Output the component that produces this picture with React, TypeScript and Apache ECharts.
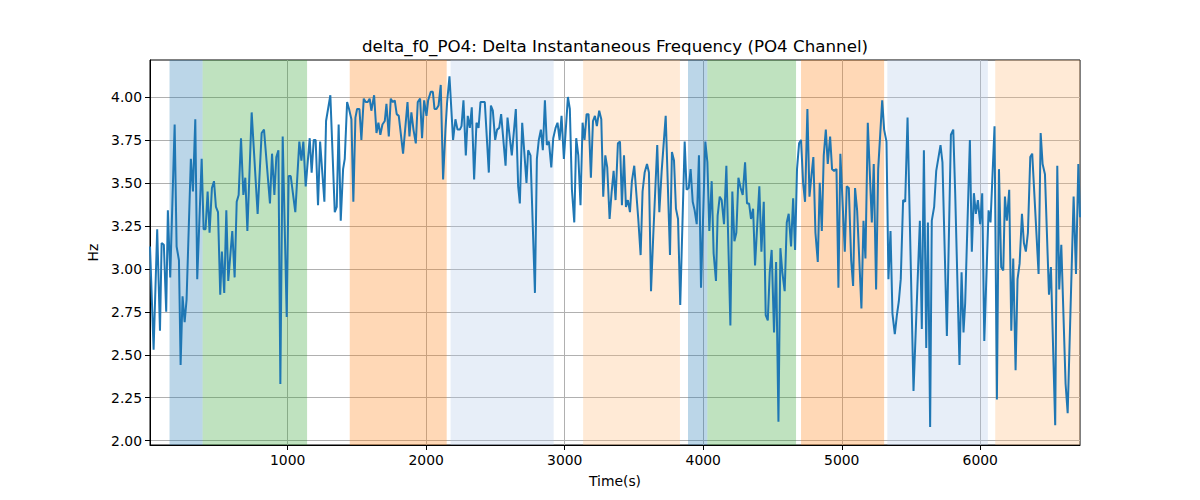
import { useEffect, useRef } from 'react';
import * as echarts from 'echarts';

const TITLE = 'delta_f0_PO4: Delta Instantaneous Frequency (PO4 Channel)';
const X_NAME = 'Time(s)';
const Y_NAME = 'Hz';

// samples (seconds, Hz)
const TIMES = [
  6, 32, 58, 78, 90, 106, 123, 135, 152, 184, 198, 215, 227, 241, 256, 270, 301, 316, 333, 347,
  379, 393, 407, 422, 436, 453, 468, 482, 497, 513, 525, 542, 557, 571, 600, 617, 632, 646, 663, 680,
  694, 709, 740, 783, 812, 829, 872, 887, 904, 918, 933, 947, 964, 993, 1007, 1022, 1055, 1084, 1099, 1113,
  1130, 1159, 1173, 1188, 1202, 1219, 1234, 1265, 1277, 1308, 1340, 1354, 1368, 1383, 1400, 1412, 1429, 1443, 1460, 1474,
  1489, 1501, 1518, 1532, 1549, 1563, 1578, 1592, 1604, 1624, 1641, 1655, 1669, 1684, 1701, 1713, 1730, 1744, 1759, 1773,
  1787, 1802, 1833, 1865, 1879, 1893, 1908, 1925, 1939, 1956, 1970, 1985, 2002, 2014, 2033, 2048, 2060, 2074, 2089, 2105,
  2122, 2139, 2151, 2168, 2194, 2211, 2226, 2243, 2255, 2269, 2286, 2300, 2315, 2329, 2346, 2363, 2378, 2392, 2406, 2423,
  2452, 2467, 2481, 2498, 2512, 2527, 2541, 2573, 2587, 2618, 2647, 2664, 2676, 2693, 2724, 2736, 2753, 2785, 2799, 2813,
  2828, 2842, 2857, 2871, 2886, 2903, 2917, 2934, 2948, 2963, 2977, 2994, 3023, 3037, 3052, 3069, 3083, 3098, 3114, 3129,
  3143, 3158, 3172, 3189, 3204, 3218, 3232, 3249, 3264, 3278, 3293, 3307, 3324, 3338, 3353, 3367, 3384, 3399, 3413, 3428,
  3442, 3456, 3471, 3485, 3502, 3531, 3548, 3562, 3577, 3594, 3608, 3623, 3639, 3668, 3683, 3700, 3729, 3760, 3774, 3789,
  3803, 3818, 3834, 3866, 3880, 3895, 3909, 3924, 3938, 3953, 3969, 3984, 4015, 4030, 4044, 4061, 4075, 4092, 4104, 4119,
  4133, 4150, 4167, 4196, 4210, 4225, 4239, 4254, 4270, 4285, 4302, 4316, 4331, 4345, 4360, 4374, 4405, 4420, 4437, 4451,
  4466, 4480, 4494, 4511, 4526, 4543, 4557, 4571, 4588, 4603, 4617, 4634, 4649, 4663, 4677, 4692, 4706, 4721, 4735, 4752,
  4767, 4781, 4795, 4810, 4827, 4841, 4856, 4870, 4885, 4899, 4916, 4930, 4945, 4962, 4976, 4990, 5022, 5036, 5051, 5068,
  5082, 5096, 5111, 5142, 5157, 5171, 5188, 5217, 5231, 5248, 5263, 5292, 5306, 5323, 5337, 5352, 5366, 5383, 5398, 5412,
  5426, 5443, 5458, 5475, 5518, 5564, 5578, 5593, 5610, 5622, 5638, 5650, 5667, 5682, 5713, 5727, 5759, 5788, 5805, 5819,
  5850, 5865, 5879, 5891, 5925, 5939, 5954, 5968, 5983, 5999, 6014, 6029, 6060, 6074, 6103, 6120, 6135, 6151, 6166, 6178,
  6192, 6209, 6224, 6238, 6255, 6269, 6284, 6301, 6315, 6329, 6344, 6361, 6375, 6421, 6436, 6450, 6467, 6496, 6510, 6541,
  6556, 6570, 6585, 6616, 6631, 6674, 6691, 6708, 6720,
];

const VALUES = [
  3.13, 2.53, 3.23, 2.64, 3.15, 3.14, 2.75, 3.34, 2.95, 3.84, 3.13, 3.05, 2.44, 2.84, 2.69, 2.82, 3.64, 3.45, 3.87, 2.94,
  3.64, 3.23, 3.23, 3.45, 3.21, 3.47, 3.51, 3.36, 3.33, 2.85, 3.10, 2.86, 3.34, 2.93, 3.22, 2.95, 3.39, 3.43, 3.76, 3.43,
  3.53, 3.22, 3.91, 3.32, 3.79, 3.81, 3.38, 3.67, 3.43, 3.65, 3.69, 2.33, 3.77, 2.72, 3.54, 3.54, 3.33, 3.74, 3.63, 3.74,
  3.48, 3.76, 3.56, 3.75, 3.75, 3.37, 3.74, 3.39, 3.86, 4.01, 3.33, 3.36, 3.84, 3.28, 3.58, 3.64, 3.97, 3.93, 3.87, 3.39,
  3.88, 3.93, 3.93, 3.75, 3.99, 3.97, 3.97, 3.99, 3.92, 4.01, 3.79, 3.85, 3.78, 3.84, 3.86, 3.96, 3.77, 3.99, 3.97, 3.98,
  3.90, 3.89, 3.67, 3.97, 3.77, 3.91, 3.81, 3.73, 3.97, 3.99, 3.76, 3.98, 3.89, 3.98, 4.03, 4.03, 3.93, 3.93, 3.95, 4.07,
  3.52, 3.81, 3.97, 4.12, 3.75, 3.87, 3.81, 3.81, 3.83, 3.98, 3.66, 3.89, 3.82, 3.94, 3.52, 3.85, 3.82, 3.97, 3.97, 3.97,
  3.56, 3.95, 3.92, 3.75, 3.81, 3.82, 3.90, 3.60, 3.88, 3.66, 3.93, 3.48, 3.38, 3.85, 3.50, 3.69, 3.66, 2.86, 3.64, 3.75,
  3.81, 3.69, 3.98, 3.72, 3.74, 3.59, 3.76, 3.82, 3.85, 3.75, 3.89, 3.64, 4.00, 3.93, 3.46, 3.27, 3.76, 3.66, 3.37, 3.85,
  3.75, 3.90, 3.90, 3.53, 3.86, 3.89, 3.83, 3.92, 3.87, 3.42, 3.66, 3.59, 3.29, 3.44, 3.57, 3.40, 3.73, 3.74, 3.37, 3.66,
  3.36, 3.40, 3.33, 3.51, 3.60, 3.29, 3.08, 3.45, 3.56, 3.61, 3.56, 2.87, 3.19, 3.72, 3.33, 3.57, 3.89, 3.08, 3.68, 3.63,
  3.35, 3.29, 2.79, 3.74, 3.46, 3.47, 3.58, 3.39, 3.34, 3.26, 3.66, 2.89, 3.74, 3.62, 3.22, 3.51, 3.09, 2.93, 3.31, 3.42,
  3.40, 3.26, 3.60, 2.67, 3.45, 3.16, 3.21, 3.53, 3.47, 3.43, 3.62, 3.38, 3.38, 3.29, 3.35, 3.02, 3.48, 3.10, 3.39, 2.73,
  2.70, 2.98, 3.11, 2.63, 3.04, 2.11, 3.12, 2.98, 2.87, 3.27, 3.32, 3.13, 3.41, 3.11, 3.58, 3.73, 3.75, 3.50, 3.39, 3.93,
  3.42, 3.54, 3.65, 3.21, 3.04, 3.50, 3.22, 3.66, 3.81, 3.61, 3.77, 3.58, 3.57, 3.58, 2.89, 3.67, 3.10, 3.48, 3.47, 3.05,
  2.90, 3.47, 3.34, 2.77, 3.28, 3.06, 3.85, 3.27, 3.61, 2.88, 3.58, 3.98, 3.81, 3.74, 2.94, 3.22, 2.74, 2.62, 2.73, 2.81,
  2.94, 3.40, 3.39, 3.88, 2.29, 3.28, 2.65, 3.69, 2.54, 3.27, 2.08, 3.28, 3.36, 3.57, 3.72, 3.62, 2.61, 3.78, 3.81, 3.44,
  2.44, 2.98, 2.63, 2.80, 3.75, 3.10, 3.44, 3.32, 3.40, 3.26, 3.44, 2.58, 3.34, 3.27, 3.83, 2.24, 3.58, 3.01, 2.99, 3.42,
  3.28, 3.46, 2.64, 3.06, 2.41, 2.94, 3.03, 3.32, 3.15, 3.10, 3.21, 3.65, 3.67, 2.97, 3.79, 3.61, 3.55, 2.85, 3.01, 2.09,
  3.60, 2.88, 3.14, 2.33, 2.16, 3.42, 2.97, 3.61, 3.30,
];

// shaded intervals
const SPAN_STARTS = [147, 386, 1448, 2176, 3133, 3890, 4030, 4706, 5329, 6108];
const SPAN_ENDS = [386, 1140, 2148, 2920, 3832, 4030, 4670, 5306, 6055, 6720];
const SPAN_COLORS = [
  'rgba(31,119,180,0.3)',
  'rgba(44,160,44,0.3)',
  'rgba(255,127,14,0.3)',
  'rgba(174,199,232,0.3)',
  'rgba(255,187,120,0.3)',
  'rgba(31,119,180,0.3)',
  'rgba(44,160,44,0.3)',
  'rgba(255,127,14,0.3)',
  'rgba(174,199,232,0.3)',
  'rgba(255,187,120,0.3)',
];

const X_TICKS = [1000, 2000, 3000, 4000, 5000, 6000];
const Y_TICKS = [2.0, 2.25, 2.5, 2.75, 3.0, 3.25, 3.5, 3.75, 4.0];
const X_MIN = 6;
const X_MAX = 6720;
const Y_MIN = 1.975;
const Y_MAX = 4.215;

const FONT = 'DejaVu Sans';

export default function App() {
  const chartRef = useRef<HTMLDivElement>(null);

  useEffect(() => {
    document.body.style.margin = '0';
    if (!chartRef.current) return;
    const chart = echarts.init(chartRef.current, undefined, { renderer: 'svg' });

    const points = TIMES.map((t, i) => [t, VALUES[i]]);
    const areas = SPAN_STARTS.map((s, i) => [
      { xAxis: s, itemStyle: { color: SPAN_COLORS[i] } },
      { xAxis: SPAN_ENDS[i] },
    ]);

    chart.setOption({
      animation: false,
      textStyle: { fontFamily: FONT },
      grid: {
        left: 150,
        right: 120,
        top: 60,
        bottom: 55,
        show: true,
        borderColor: '#000',
        borderWidth: 1,
        backgroundColor: 'transparent',
      },
      graphic: [
        {
          type: 'text',
          x: 615,
          y: 46,
          style: {
            text: TITLE,
            textAlign: 'center',
            textVerticalAlign: 'middle',
            font: `16.7px "${FONT}"`,
            fill: '#000',
          },
        },
      ],
      xAxis: {
        type: 'value',
        min: X_MIN,
        max: X_MAX,
        minInterval: 1000,
        maxInterval: 1000,
        name: X_NAME,
        nameLocation: 'middle',
        nameGap: 29,
        nameTextStyle: { fontSize: 13.9, color: '#000', fontFamily: FONT },
        axisLine: { show: true, onZero: false, lineStyle: { color: '#000', width: 1 } },
        axisTick: { show: true, length: 5, lineStyle: { color: '#000' }, customValues: X_TICKS },
        axisLabel: {
          fontSize: 13.9,
          color: '#000',
          margin: 8,
          customValues: X_TICKS,
          formatter: (v: number) => String(v),
        },
        splitLine: { show: true, lineStyle: { color: '#b0b0b0', width: 1 } },
      },
      yAxis: {
        type: 'value',
        min: Y_MIN,
        max: Y_MAX,
        minInterval: 0.25,
        maxInterval: 0.25,
        name: Y_NAME,
        nameLocation: 'middle',
        nameRotate: 90,
        nameGap: 48,
        nameTextStyle: { fontSize: 13.9, color: '#000', fontFamily: FONT },
        axisLine: { show: true, onZero: false, lineStyle: { color: '#000', width: 1 } },
        axisTick: { show: true, length: 5, lineStyle: { color: '#000' }, customValues: Y_TICKS },
        axisLabel: {
          fontSize: 13.9,
          color: '#000',
          margin: 8,
          customValues: Y_TICKS,
          formatter: (v: number) => v.toFixed(2),
        },
        splitLine: { show: true, lineStyle: { color: '#b0b0b0', width: 1 } },
      },
      series: [
        {
          type: 'line',
          data: [],
          z: 1,
          silent: true,
          markArea: { silent: true, data: areas },
        },
        {
          type: 'line',
          data: points,
          z: 3,
          showSymbol: false,
          lineStyle: { color: '#1f77b4', width: 2 },
          itemStyle: { color: '#1f77b4' },
        },
      ],
    });

    return () => chart.dispose();
  }, []);

  return <div ref={chartRef} style={{ width: 1200, height: 500 }} />;
}
